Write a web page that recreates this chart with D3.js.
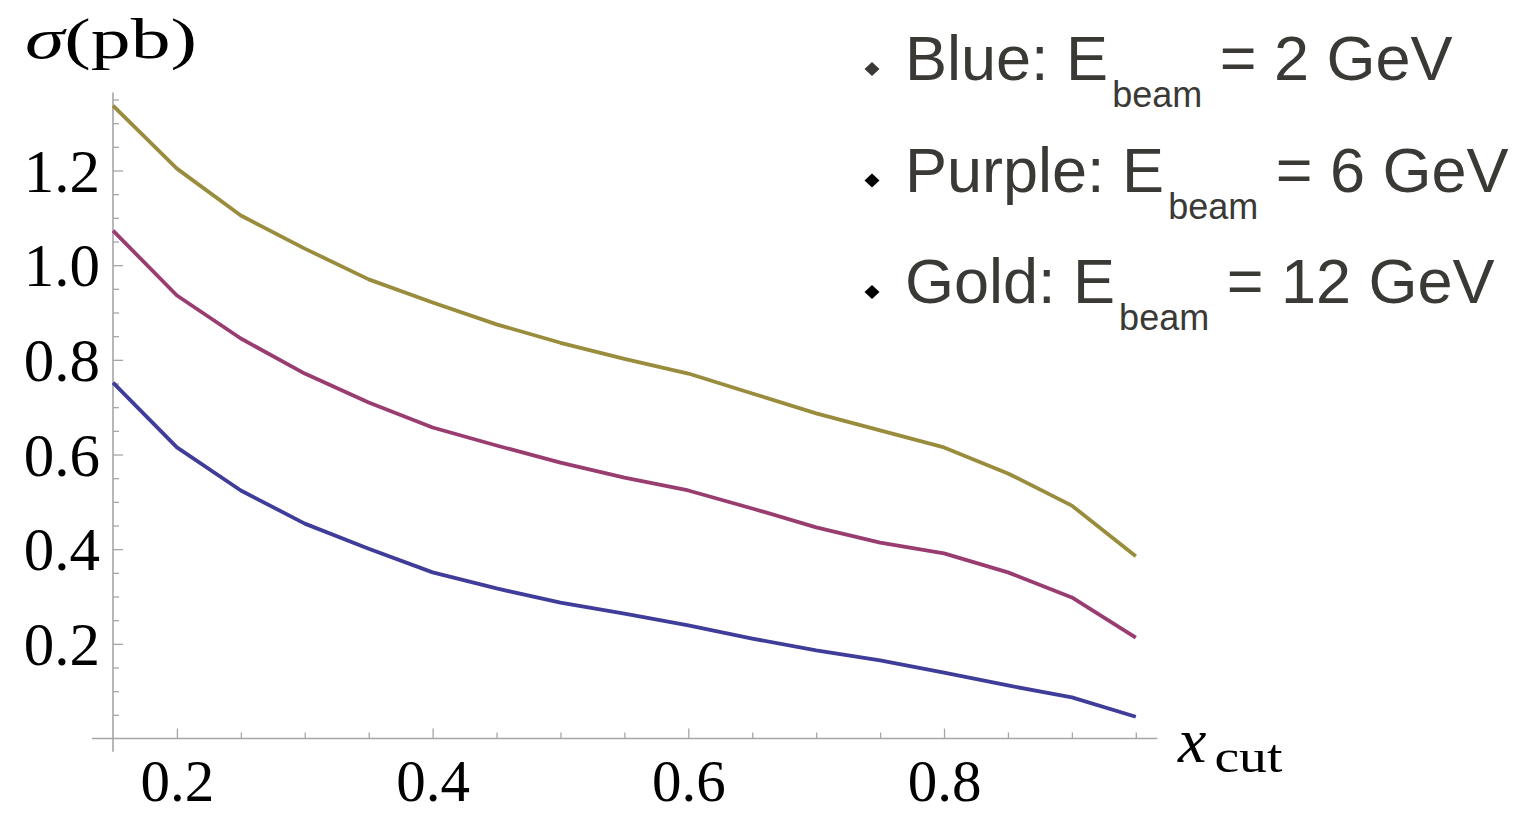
<!DOCTYPE html>
<html>
<head>
<meta charset="utf-8">
<script src="https://cdn.jsdelivr.net/npm/d3@7"></script>
<style>
  html, body { margin: 0; padding: 0; background: #fff; }
  svg { display: block; }
</style>
</head>
<body>
<svg id="chart" width="1531" height="813"></svg>
<script>
// x_cut values where the cross section was evaluated
const xCut = [0.15, 0.20, 0.25, 0.30, 0.35, 0.40, 0.45, 0.50, 0.55, 0.60, 0.65, 0.70, 0.75, 0.80, 0.85, 0.90, 0.95];

// sigma (pb) for each beam energy
const sigmaBlue   = [0.752, 0.615, 0.524, 0.454, 0.401, 0.351, 0.317, 0.287, 0.264, 0.239, 0.211, 0.186, 0.165, 0.139, 0.112, 0.087, 0.046];
const sigmaPurple = [1.073, 0.936, 0.845, 0.771, 0.710, 0.657, 0.619, 0.583, 0.551, 0.524, 0.486, 0.446, 0.414, 0.391, 0.351, 0.298, 0.213];
const sigmaGold   = [1.337, 1.204, 1.105, 1.035, 0.970, 0.921, 0.875, 0.836, 0.802, 0.771, 0.729, 0.687, 0.651, 0.615, 0.560, 0.492, 0.385];

const seriesNames  = ["Blue", "Purple", "Gold"];
const seriesColors = ["#3f3d99", "#993d71", "#998c3d"];
const beamEnergies = ["2 GeV", "6 GeV", "12 GeV"];

const xMajorTicks = [0.2, 0.4, 0.6, 0.8];
const xMinorTicks = [0.25, 0.3, 0.35, 0.45, 0.5, 0.55, 0.65, 0.7, 0.75, 0.85, 0.9, 0.95];
const yMajorTicks = [0.2, 0.4, 0.6, 0.8, 1.0, 1.2];
const yMinorTicks = [0.05, 0.1, 0.15, 0.25, 0.3, 0.35, 0.45, 0.5, 0.55, 0.65, 0.7, 0.75,
                     0.85, 0.9, 0.95, 1.05, 1.1, 1.15, 1.25, 1.3, 1.35];

const svg = d3.select("#chart");

const x = d3.scaleLinear().domain([0.15, 0.95]).range([113, 1135.8]);
const y = d3.scaleLinear().domain([0, 1.2]).range([738.5, 170.5]);

const axisColor = "#a6a6a6";
const serif = "'Liberation Serif', 'DejaVu Serif', serif";

// axis lines (extend a little beyond the data range)
svg.append("line")
  .attr("x1", x(0.1335)).attr("x2", x(0.9668))
  .attr("y1", y(0)).attr("y2", y(0))
  .attr("stroke", axisColor).attr("stroke-width", 1.6);
svg.append("line")
  .attr("x1", x(0.15)).attr("x2", x(0.15))
  .attr("y1", y(-0.028)).attr("y2", y(1.365))
  .attr("stroke", axisColor).attr("stroke-width", 1.6);

function styleAxis(g, size) {
  g.select(".domain").remove();
  g.selectAll(".tick line").attr("stroke", axisColor).attr("stroke-width", 1.3);
  g.selectAll(".tick text")
    .attr("fill", "#000")
    .style("font-family", serif)
    .style("font-size", (size || 61) + "px");
}

// y axis: ticks point into the plot, labels on the left
svg.append("g").attr("transform", `translate(${x(0.15)},0)`)
  .call(d3.axisLeft(y).tickValues(yMinorTicks).tickSizeInner(-6).tickSizeOuter(0).tickFormat(""))
  .call(styleAxis);
svg.append("g").attr("transform", `translate(${x(0.15)},0)`)
  .call(d3.axisLeft(y).tickValues(yMajorTicks).tickSizeInner(-10).tickSizeOuter(0)
        .tickPadding(13).tickFormat(d3.format(".1f")))
  .call(styleAxis)
  .call(g => g.selectAll(".tick text").attr("dy", "0.34em"));

// x axis: ticks point up, labels below
svg.append("g").attr("transform", `translate(0,${y(0)})`)
  .call(d3.axisBottom(x).tickValues(xMinorTicks).tickSizeInner(-6).tickSizeOuter(0).tickFormat(""))
  .call(styleAxis);
svg.append("g").attr("transform", `translate(0,${y(0)})`)
  .call(d3.axisBottom(x).tickValues(xMajorTicks).tickSizeInner(-10).tickSizeOuter(0)
        .tickPadding(0).tickFormat(d3.format(".1f")))
  .call(g => styleAxis(g, 59))
  .call(g => g.selectAll(".tick text").attr("y", 62).attr("dy", null));

// curves
const allSeries = [sigmaBlue, sigmaPurple, sigmaGold];
const line = d3.line().x((d, i) => x(xCut[i])).y(d => y(d));
svg.append("g").selectAll("path")
  .data(allSeries)
  .join("path")
  .attr("d", line)
  .attr("fill", "none")
  .attr("stroke", (d, i) => seriesColors[i])
  .attr("stroke-width", 3.8)
  .attr("stroke-linejoin", "round");

// axis titles
const yTitle = svg.append("text")
  .attr("x", 25).attr("y", 58)
  .style("font-family", serif).style("font-size", "58px").attr("fill", "#000")
  .attr("textLength", 172).attr("lengthAdjust", "spacingAndGlyphs");
yTitle.append("tspan").style("font-style", "italic").text("σ");
yTitle.append("tspan").text("(pb)");

const xTitle = svg.append("text")
  .attr("x", 1178).attr("y", 762)
  .style("font-family", serif).attr("fill", "#000");
xTitle.append("tspan").style("font-style", "italic").style("font-size", "64px").text("x");
xTitle.append("tspan").attr("dx", 8).attr("dy", 10).style("font-size", "46px")
  .attr("textLength", 68).attr("lengthAdjust", "spacingAndGlyphs").text("cut");

// legend with diamond bullets
const legendTop = 80, legendStep = 111.5;
const legend = svg.append("g");
const diamond = "M0,-7 L7.5,0 L0,7 L-7.5,0 Z";
seriesNames.forEach((name, i) => {
  const base = legendTop + i * legendStep;
  legend.append("path")
    .attr("d", diamond)
    .attr("transform", `translate(872,${base - 11})`)
    .attr("fill", i === 0 ? "#3a3935" : "#000");
  const t = legend.append("text")
    .attr("x", 905).attr("y", base)
    .style("font-family", "'Liberation Sans', Arial, sans-serif")
    .style("font-size", "63px")
    .attr("fill", "#3a3935");
  t.append("tspan").text(`${name}: E`);
  t.append("tspan").attr("dx", 4).attr("dy", 27).style("font-size", "36px").text("beam");
  t.append("tspan").attr("dy", -27).text(` = ${beamEnergies[i]}`);
});
</script>
</body>
</html>
